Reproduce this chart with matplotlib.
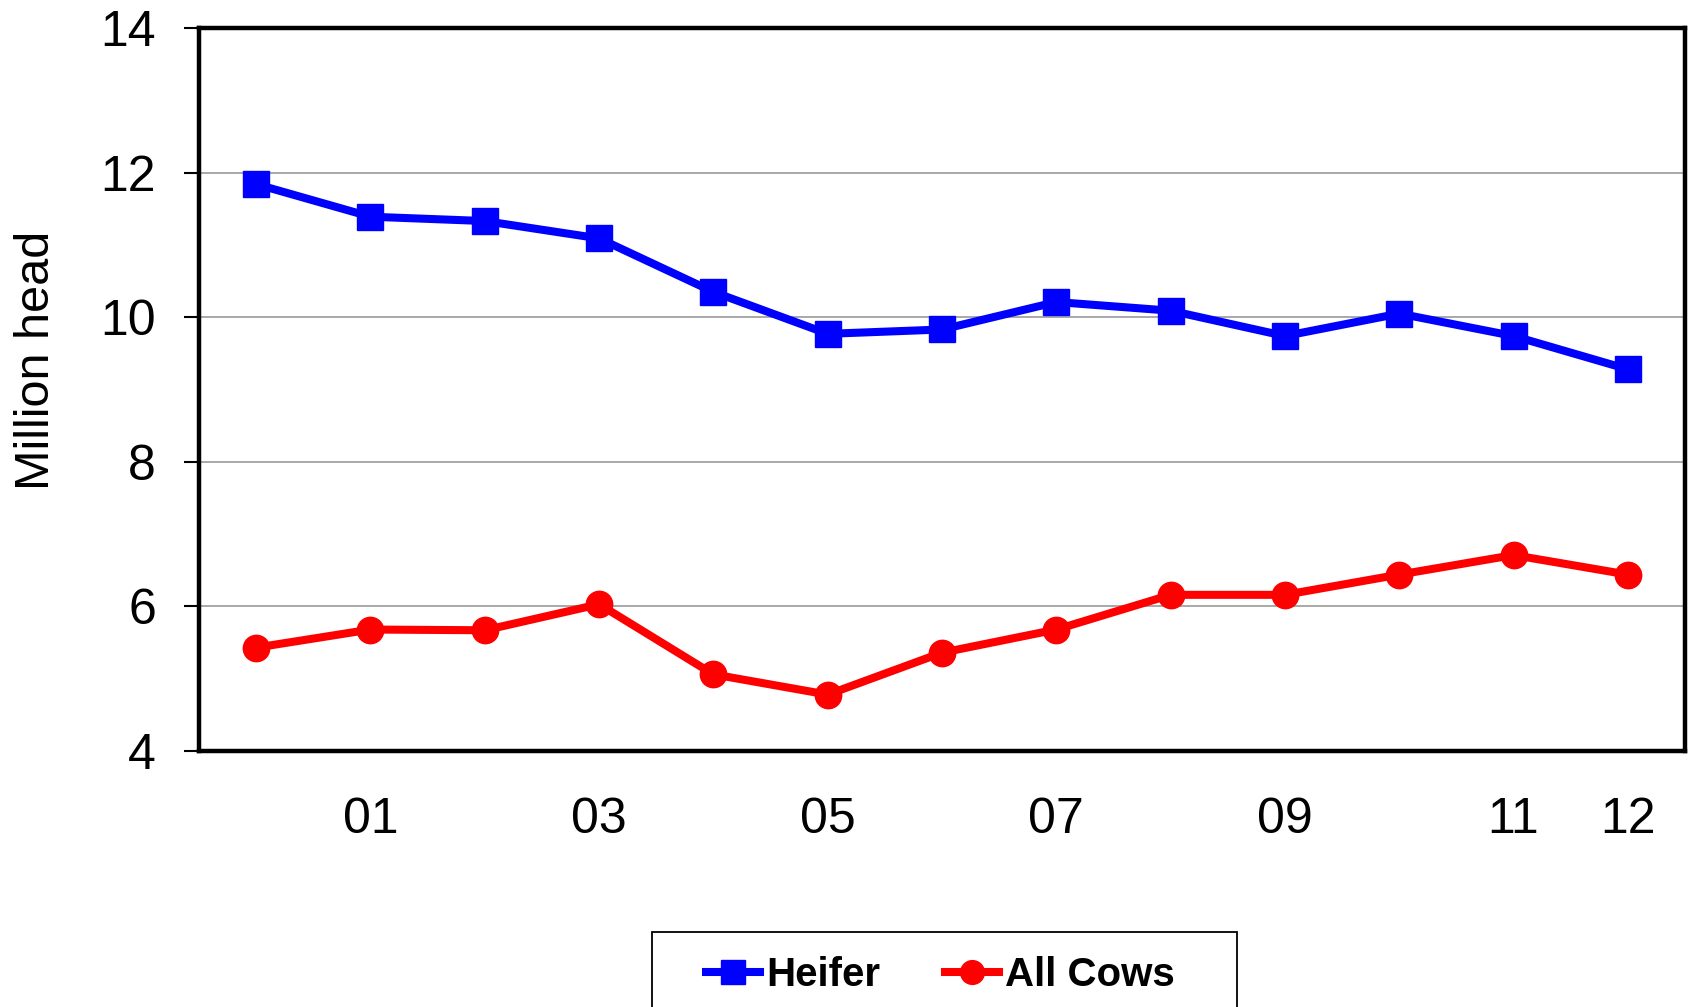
"""
Heifer vs. all cows inventory, 2000-2012 (million head).
"""

import matplotlib.pyplot as plt
from matplotlib.patches import Rectangle

years = ["00", "01", "02", "03", "04", "05", "06", "07", "08", "09", "10", "11", "12"]
tick_labels = ["", "01", "", "03", "", "05", "", "07", "", "09", "", "11", "12"]
heifer = [11.84, 11.39, 11.33, 11.09, 10.35, 9.77, 9.83, 10.21, 10.09, 9.74, 10.05, 9.74, 9.28]
all_cows = [5.43, 5.68, 5.67, 6.03, 5.06, 4.78, 5.36, 5.68, 6.16, 6.16, 6.44, 6.71, 6.44]

plt.rcParams["font.family"] = ["Liberation Sans", "DejaVu Sans"]

W, H = 1690, 1007
fig = plt.figure(figsize=(W / 100, H / 100), dpi=100)
ax = fig.add_axes([199 / W, 1 - 751 / H, 1486 / W, 723 / H])

x = list(range(len(years)))
ax.plot(x, heifer, color="#0000ff", linewidth=5.8, marker="s", markersize=19,
        label="Heifer", zorder=3)
ax.plot(x, all_cows, color="#ff0000", linewidth=5.8, marker="o", markersize=19,
        label="All Cows", zorder=3)

# axes limits and ticks
ax.set_xlim(-0.5, len(years) - 0.5)
ax.set_ylim(4, 14)
ax.set_yticks([4, 6, 8, 10, 12, 14])
ax.set_xticks(x)
ax.set_xticklabels(tick_labels)
ax.tick_params(axis="x", length=0, pad=33, labelsize=36)
ax.tick_params(axis="y", length=11, width=1.5, pad=20, labelsize=36, direction="out")

ax.grid(True, axis="y", color="#999999", linewidth=1.2)
ax.set_axisbelow(True)
for s in ax.spines.values():
    s.set_linewidth(3.2)

ax.set_ylabel("Million head", fontsize=35)
ax.yaxis.set_label_coords(-0.094, 0.54)

# legend box runs off the bottom of the figure, as in the original
fig.patches.append(Rectangle((652 / W, -0.05), 585 / W, 0.05 + (1007 - 932) / H,
                             transform=fig.transFigure, facecolor="white",
                             edgecolor="black", linewidth=1.3))
leg = fig.legend(
    loc="center left",
    bbox_to_anchor=(706 / W, 1 - 975 / H),
    ncol=2,
    frameon=False,
    prop={"size": 29, "weight": "bold"},
    handlelength=1.35,
    handletextpad=0.15,
    columnspacing=1.6,
    borderpad=0,
    borderaxespad=0,
    markerscale=0.9,
)

fig.savefig("out.png", dpi=100)
